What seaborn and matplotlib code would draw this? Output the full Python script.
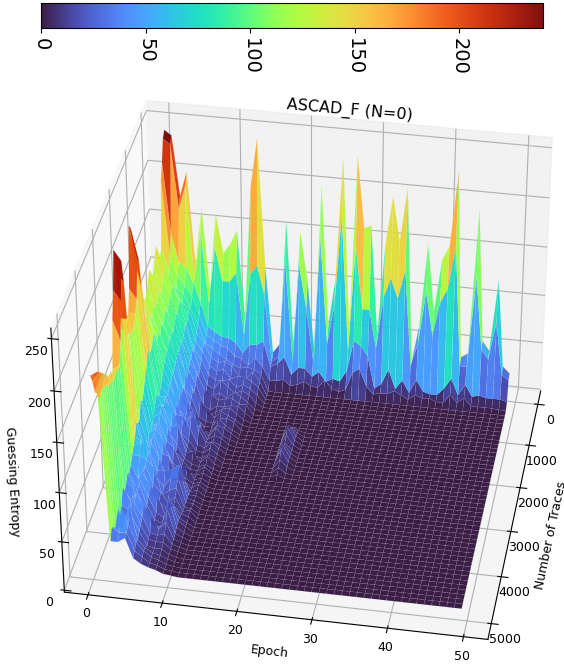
import numpy as np
import matplotlib
matplotlib.use("Agg")
import matplotlib.pyplot as plt
import seaborn as sns

epochs = list(range(0, 50))
traces = list(range(0, 4900, 100))

# guessing entropy per epoch, first entry is 0 traces; rest of the column is flat 0
ge_low_epochs = [
    [245,240,220,205,140,135,145,155,150,140,135,145,150,140,135,130,140,150,145,160,175,200,232,238,180,160,150,145,150,160,175,225,250,215,190,145,140,145,140,150,148,152,155,150,160,165,180,190,195],
    [240,235,150,130,120,110,125,130,125,115,120,125,120,115,125,115,120,125,130,140,150,170,200,205,170,160,150,150,155,160,175,215,240,205,170,150,150,155,150,155,165,160,170,175,180,185,190,195,195],
    [180,170,120,110,100,105,110,115,110,105,100,108,105,100,105,95,105,100,110,115,110,105,110,115,100,95,85,80,85,70,70,75,65,60,55,50,45,50,45,40,50,35,30,40,35,30,35,40,30],
    [205,195,115,100,95,90,95,100,90,95,90,85,90,85,90,80,85,80,75,70,65,60,65,70,60,55,50,45,50,45,40,45,60,65,55,35,30,35,40,30,35,30,25,30,35,30,60,35,30],
    [110,100,100,90,80,85,80,75,80,72,70,75,70,72,70,68,62,66,60,62,58,60,62,58,65,60,55,60,58,55,60,55,50,55,52,50,48,52,48,50,45,48,42,45,40,55,40,36,35],
    [170,150,80,70,65,60,55,50,55,50,50,45,40,52,38,46,36,48,35,50,38,35,52,38,35,48,36,34,46,36,30,42,32,30,44,32,28,40,32,28,26,38,30,26,24,20,22,18,15],
    [85,75,55,50,45,50,45,40,36,30,38,32,28,34,30,26,22,38,24,20,36,22,28,40,24,20,30,18,24,34,16,18,32,20,16,24,18,30,16,14,12,26,14,12,10,12,14,12,10],
    [165,135,50,45,40,35,30,25,18,14,22,10,12,24,10,12,26,14,30,34,24,16,14,12,10,12,10,14,12,10,14,24,35,30,22,14,12,10,12,10,12,14,12,10,8,8,8,7,7],
    [125,100,45,40,35,30,25,20,15,12,18,5,4,14,6,5,4,15,18,20,8,6,5,14,5,4,5,16,8,10,20,35,40,32,25,20,16,24,32,38,30,22,14,10,8,6,6,5,5],
    [135,100,45,38,30,32,28,20,25,15,12,10,8,6,5,5,4,4,5,6,5,4,3,3,3,3,3,3,3,3,4,5,6,6,6,6,8,8,10,8,6,5,4,4,3,3,2,2,2],
    [150,110,40,30,25,28,18,22,18,10,14,10,12,14,10,16,12,14,10,8,12,10,8,10,6,8,6,5,6,8,6,5,4,6,5,8,6,4,5,3,3,2,2,2,1,1,1,1,1],
    [60,45,30,28,22,18,22,14,12,18,15,12,14,10,12,8,10,6,8,5,6,4,5,3,2,2,2,1,1,1,1,1,1,1],
    [195,110,40,22,24,16,22,18,16,14,10,12,8,6,8,4,5,3,2,1,1],
    [245,120,40,30,22,24,18,14,12,8,10,6,3,1],
]
ge_high_epochs = [
    [115,90,45,22,18,14,12,8,4,2],
    [25,20,18,8],
    [35,25,22,8],
    [165,130,30,10],
    [30,25,12,4],
    [155,125,20,6],
    [105,80,20,10,0,0,0,0,0,0,0,0,0,5,10,16,18,14,10,14,18,16,10,6,3],
    [30,25,12,6,0,0,0,0,0,0,0,0,0,2,4,5,5,4,3,4,5,4,3,1],
    [205,155,18,5],
    [60,45,8,14],
    [110,85,12,6],
    [235,180,10,3],
    [55,40,22,6],
    [237,150,55,25],
    [165,85,50,30],
    [168,85,40,12],
    [55,45,6,4],
    [150,100,12,6],
    [200,120,28,6],
    [155,100,8,10],
    [210,130,18,6],
    [30,30,5,2],
    [70,55,20,8],
    [155,110,8,5],
    [85,65,6,6],
    [140,100,6,3],
    [155,115,14,2],
    [232,160,25,12],
    [40,35,8,4],
    [45,35,20,10],
    [195,130,8,2],
    [60,55,10,2],
    [50,45,8,2],
    [125,85,8,2],
    [35,30,8,1],
    [28,25,6,1],
]
cbar_ticks = [0, 50, 100, 150, 200]
epoch_ticks = [0, 10, 20, 30, 40, 50]
trace_ticks = [0, 1000, 2000, 3000, 4000, 5000]
ge_ticks = [0, 50, 100, 150, 200, 250]

columns = ge_low_epochs + ge_high_epochs
ge = np.zeros((len(traces), len(epochs)))
for i, col in enumerate(columns):
    ge[:len(col), i] = col

X, Y = np.meshgrid(epochs, traces)
cmap = sns.color_palette("turbo", as_cmap=True)

fig = plt.figure(figsize=(5.64, 6.70), dpi=100)
ax = fig.add_axes([-0.043, -0.093, 1.16, 1.08], projection="3d")
surf = ax.plot_surface(X, Y, ge, cmap=cmap, rcount=49, ccount=50, linewidth=0.3,
                       edgecolor=(1, 1, 1, 0.12), alpha=0.95)
ax.view_init(elev=35, azim=-80)
ax.set_xlim(-3.2, 53.2)
ax.set_ylim(5330, -330)
ax.set_zlim(-2, 260)
ax.set_xticks(epoch_ticks)
ax.set_yticks(trace_ticks)
ax.set_zticks(ge_ticks)
ax.zaxis.set_ticks_position("upper")
ax.zaxis.set_label_position("upper")
ax.tick_params(labelsize=9)
ax.tick_params(axis="x", pad=-2)
ax.tick_params(axis="y", pad=0)
ax.tick_params(axis="z", pad=-1)
ax.set_xlabel("Epoch", fontsize=9, labelpad=-4)
ax.set_ylabel("Number of Traces", fontsize=9, labelpad=1)
ax.set_zlabel("Guessing Entropy", fontsize=9, labelpad=0)

fig.text(350 / 564, 1 - 110 / 670, "ASCAD_F (N=0)", ha="center", va="center", rotation=-5, fontsize=11.5)

cax = fig.add_axes([41 / 564, 1 - 28 / 670, 502 / 564, 25 / 670])
cb = fig.colorbar(surf, cax=cax, orientation="horizontal", ticks=cbar_ticks)
cb.ax.tick_params(labelsize=14, labelrotation=270)

fig.savefig("out.png", dpi=100)
